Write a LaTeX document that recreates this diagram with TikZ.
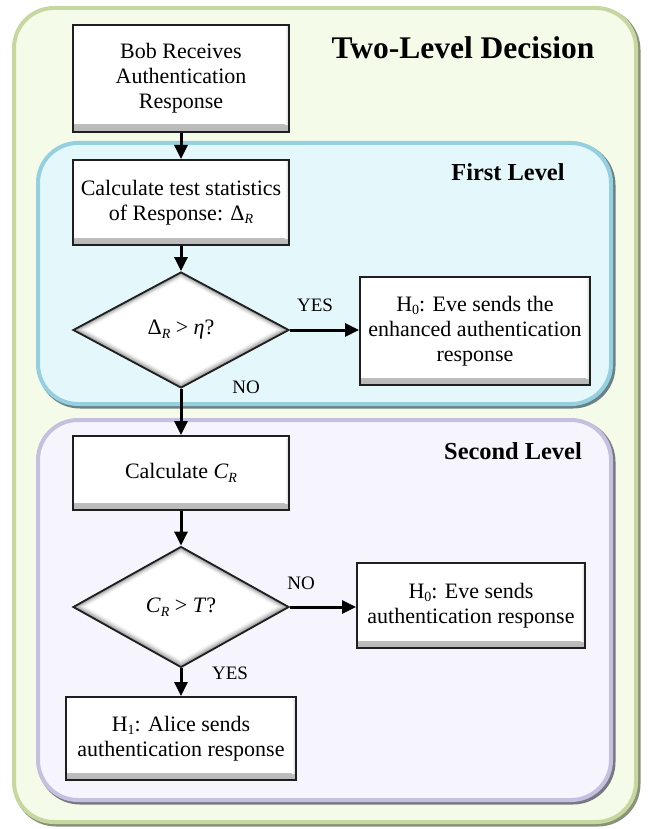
\documentclass[tikz,border=0pt]{standalone}
\usepackage{fontspec}
\setmainfont{Liberation Serif}
\usetikzlibrary{arrows.meta,shapes.geometric,calc}
\definecolor{outerfill}{RGB}{244,251,232}
\definecolor{outerline}{RGB}{198,216,160}
\definecolor{outerdark}{RGB}{95,110,75}
\definecolor{cyanfill}{RGB}{228,248,252}
\definecolor{cyanline}{RGB}{150,208,224}
\definecolor{cyandark}{RGB}{60,90,100}
\definecolor{lavfill}{RGB}{246,244,252}
\definecolor{lavline}{RGB}{198,192,224}
\definecolor{lavdark}{RGB}{80,76,96}
\newcommand\bodyfont{\fontsize{22}{25}\selectfont}
\newcommand\lsub[1]{\lower0.35ex\hbox{\fontsize{14}{14}\selectfont #1}}
\newcommand\panelframe[7]{%
  \draw[#7, line width=5, rounded corners=40, opacity=.75] (#1+2,#2+2) rectangle (#3+2,#4+2);
  \draw[#6, line width=4, fill=#5, rounded corners=40] (#1,#2) rectangle (#3,#4);
}
\begin{document}
\begin{tikzpicture}[x=1pt,y=-1pt,
  box/.style={draw=black!88, line width=2, fill=white, align=center,
    inner sep=0, font=\bodyfont,
    path picture={
      \shade[top color=white,bottom color=black!28]
        ([yshift=7pt]path picture bounding box.south west) rectangle (path picture bounding box.south east);
      \shade[left color=white,right color=black!20]
        ([xshift=-4pt,yshift=-2pt]path picture bounding box.north east) rectangle ([yshift=7pt]path picture bounding box.south east);
    }},
  decision/.style={shape=diamond, draw=black!88, line width=1.8, fill=white,
    inner sep=0, font=\bodyfont, minimum width=216, minimum height=118,
    path picture={
      \foreach \f/\c in {0/42,0.02/32,0.04/23,0.06/15,0.08/8,0.10/3,0.12/0}{
        \coordinate (ctr) at ($(path picture bounding box.center)+(0,-4)$);
        \fill[black!\c] ($(path picture bounding box.north)!\f!(ctr)$)
          -- ($(path picture bounding box.east)!\f!(ctr)$)
          -- ($(path picture bounding box.south)!\f!(ctr)$)
          -- ($(path picture bounding box.west)!\f!(ctr)$) -- cycle;
      }
    }},
  arr/.style={line width=3, -{Triangle[length=14pt,width=13pt]}},
  lab/.style={font=\fontsize{19}{22}\selectfont, inner sep=0},
  paneltitle/.style={font=\bfseries\fontsize{24.4}{28}\selectfont, inner sep=0}
]
\useasboundingbox (0,0) rectangle (648,829);
% outer frame
\panelframe{14}{8}{636}{822}{outerfill}{outerline}{outerdark}
% first level
\panelframe{38}{143}{611}{404}{cyanfill}{cyanline}{cyandark}
% second level
\panelframe{38}{420}{611}{800}{lavfill}{lavline}{lavdark}

\node[font=\bfseries\fontsize{31.5}{36}\selectfont, inner sep=0] (title) at (463,48) {Two-Level Decision};
\node[paneltitle] (first) at (508,172) {First Level};
\node[paneltitle] (second) at (513,451) {Second Level};

\node[box, minimum width=216, minimum height=107] (bob) at (181,78.5) {Bob Receives\\Authentication\\Response};
\node[box, minimum width=216, minimum height=85] (calc1) at (181,202.5) {Calculate test statistics\\of Response:\,\,Δ\lsub{\textit{R}}};
\node[decision, minimum height=116] (d1) at (181,330) {Δ\lsub{\textit{R}} > \textit{η}?};
\node[box, minimum width=230, minimum height=108] (h0a) at (475,331) {H\lsub{0}: Eve sends the\\enhanced authentication\\response};
\node[box, minimum width=216, minimum height=74] (calc2) at (181,473) {Calculate \textit{C}\lsub{\textit{R}}};
\node[decision, minimum height=121] (d2) at (181,607) {\textit{C}\lsub{\textit{R}} > \textit{T}?};
\node[box, minimum width=228, minimum height=85] (h0b) at (471,605.5) {H\lsub{0}: Eve sends\\authentication response};
\node[box, minimum width=230, minimum height=83] (h1) at (181,738.5) {H\lsub{1}: Alice sends\\authentication response};

\draw[arr] (bob.south) -- (calc1.north);
\draw[arr] (calc1.south) -- (d1.north);
\draw[arr] (d1.south) -- (calc2.north);
\draw[arr] (calc2.south) -- (d2.north);
\draw[arr] (d2.south) -- (h1.north);
\draw[arr] (d1.east) -- (d1.east -| h0a.west);
\draw[arr] (d2.east) -- (d2.east -| h0b.west);

\node[lab] (yes1) at (315,305) {YES};
\node[lab] (no1) at (246,387) {NO};
\node[lab] (no2) at (301,583) {NO};
\node[lab] (yes2) at (230,673) {YES};
\end{tikzpicture}
\end{document}
